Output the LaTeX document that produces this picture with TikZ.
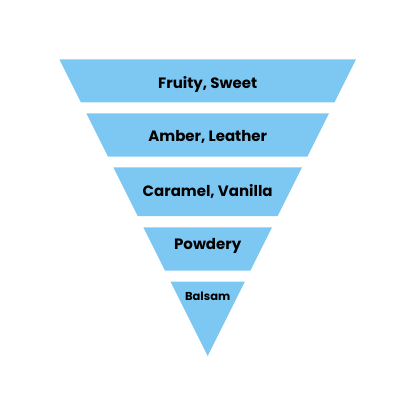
\documentclass[tikz,border=0pt]{standalone}
\usepackage{fontspec}
\setmainfont{Poppins}
\usetikzlibrary{positioning}
\definecolor{layerblue}{RGB}{125,200,242}

\tikzset{
    layer/.style={fill=layerblue, draw=none},
    layerlabel/.style={font=\bfseries, text=black, anchor=base, inner sep=0pt}
}

\begin{document}
\begin{tikzpicture}[x=1pt, y=-1pt]
\useasboundingbox (0,0) rectangle (416,416);
% apex of the funnel at (207.7,356), sides with slope 1/2
\foreach \ytop/\ybot/\name/\lab/\fsize/\ybase in {
    59.3/102.3/fruity/{Fruity, Sweet}/15/88.3,
    113.3/156.7/amber/{Amber, Leather}/15/141.7,
    167.3/216/caramel/{Caramel, Vanilla}/15/196,
    227.3/270.7/powdery/{Powdery}/15/249.3,
    281.7/356/balsam/{Balsam}/11.5/300.7
} {
    \fill[layer] ({207.7-(356-\ytop)/2}, \ytop) -- ({207.7+(356-\ytop)/2}, \ytop)
        -- ({207.7+(356-\ybot)/2}, \ybot) -- ({207.7-(356-\ybot)/2}, \ybot) -- cycle;
    \node[layerlabel, font=\bfseries\fontsize{\fsize}{\fsize}\selectfont] (\name) at (207.7, \ybase) {\lab};
}
\end{tikzpicture}
\end{document}
